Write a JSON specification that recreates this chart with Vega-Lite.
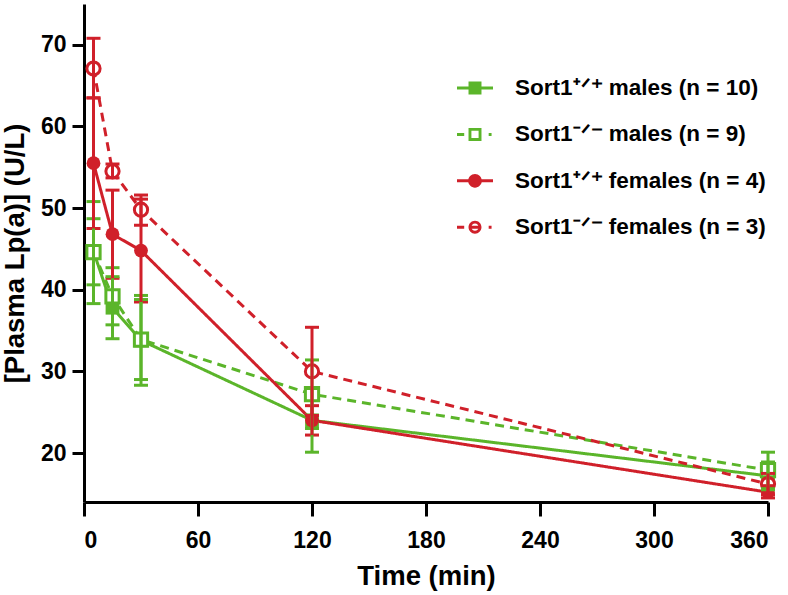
{
  "$schema": "https://vega.github.io/schema/vega-lite/v6.json",
  "autosize": "none",
  "width": 684,
  "height": 498,
  "padding": {"left": 84, "top": 4, "right": 20, "bottom": 93},
  "background": "white",
  "config": {
    "view": {"stroke": null},
    "font": "Liberation Sans",
    "axis": {
      "grid": false,
      "domainColor": "black",
      "domainWidth": 3,
      "tickColor": "black",
      "tickWidth": 3,
      "tickSize": 12,
      "labelFont": "Liberation Sans",
      "labelFontWeight": "bold",
      "labelFontSize": 23,
      "labelColor": "black",
      "titleFont": "Liberation Sans",
      "titleFontWeight": "bold",
      "titleFontSize": 27.5,
      "titleColor": "black"
    }
  },
  "data": {
    "values": [
      {"t": 5, "group": "A", "sex": "male", "genotype": "+/+", "mean": 44.7, "lo": 38.3, "hi": 50.8},
      {"t": 15, "group": "A", "sex": "male", "genotype": "+/+", "mean": 37.8, "lo": 34.0, "hi": 41.6},
      {"t": 30, "group": "A", "sex": "male", "genotype": "+/+", "mean": 33.8, "lo": 28.3, "hi": 39.3},
      {"t": 120, "group": "A", "sex": "male", "genotype": "+/+", "mean": 24.0, "lo": 20.1, "hi": 27.9},
      {"t": 360, "group": "A", "sex": "male", "genotype": "+/+", "mean": 17.2, "lo": 15.5, "hi": 18.9},
      {"t": 5, "group": "B", "sex": "male", "genotype": "-/-", "mean": 44.6, "lo": 40.6, "hi": 48.7},
      {"t": 15, "group": "B", "sex": "male", "genotype": "-/-", "mean": 39.2, "lo": 35.7, "hi": 42.7},
      {"t": 30, "group": "B", "sex": "male", "genotype": "-/-", "mean": 33.9, "lo": 29.0, "hi": 38.8},
      {"t": 120, "group": "B", "sex": "male", "genotype": "-/-", "mean": 27.2, "lo": 23.0, "hi": 31.4},
      {"t": 360, "group": "B", "sex": "male", "genotype": "-/-", "mean": 17.9, "lo": 15.8, "hi": 20.1},
      {"t": 5, "group": "C", "sex": "female", "genotype": "+/+", "mean": 55.5, "lo": 47.5, "hi": 63.5},
      {"t": 15, "group": "C", "sex": "female", "genotype": "+/+", "mean": 46.8, "lo": 41.4, "hi": 52.2},
      {"t": 30, "group": "C", "sex": "female", "genotype": "+/+", "mean": 44.8, "lo": 38.5, "hi": 51.1},
      {"t": 120, "group": "C", "sex": "female", "genotype": "+/+", "mean": 24.0, "lo": 22.2, "hi": 25.8},
      {"t": 360, "group": "C", "sex": "female", "genotype": "+/+", "mean": 15.2, "lo": 14.5, "hi": 16.0},
      {"t": 5, "group": "D", "sex": "female", "genotype": "-/-", "mean": 67.1, "lo": 63.5, "hi": 70.8},
      {"t": 15, "group": "D", "sex": "female", "genotype": "-/-", "mean": 54.5, "lo": 53.7, "hi": 55.4},
      {"t": 30, "group": "D", "sex": "female", "genotype": "-/-", "mean": 49.8, "lo": 47.9, "hi": 51.6},
      {"t": 120, "group": "D", "sex": "female", "genotype": "-/-", "mean": 30.0, "lo": 24.6, "hi": 35.4},
      {"t": 360, "group": "D", "sex": "female", "genotype": "-/-", "mean": 16.2, "lo": 14.9, "hi": 17.5}
    ]
  },
  "encoding": {
    "x": {
      "field": "t",
      "type": "quantitative",
      "scale": {"domain": [0, 360], "nice": false, "zero": false},
      "axis": {"values": [0, 60, 120, 180, 240, 300, 360], "title": "Time (min)", "tickSize": 14, "labelPadding": 13, "titlePadding": 10}
    },
    "color": {
      "field": "group",
      "type": "nominal",
      "scale": {"domain": ["A", "B", "C", "D"], "range": ["#5bb52a", "#5bb52a", "#d0202a", "#d0202a"]},
      "legend": {
        "orient": "none",
        "legendX": 373,
        "legendY": 66,
        "title": null,
        "padding": 0,
        "symbolSize": 1296,
        "symbolType": "square",
        "rowPadding": 16.4,
        "labelOffset": 22,
        "labelFont": "Liberation Sans",
        "labelFontWeight": "bold",
        "labelFontSize": 22.5,
        "labelColor": "black",
        "labelLimit": 400,
        "labelExpr": "datum.value === 'A' ? 'Sort1⁺ᐟ⁺ males (n = 10)' : datum.value === 'B' ? 'Sort1⁻ᐟ⁻ males (n = 9)' : datum.value === 'C' ? 'Sort1⁺ᐟ⁺ females (n = 4)' : 'Sort1⁻ᐟ⁻ females (n = 3)'",
        "encode": {
          "symbols": {
            "update": {
              "shape": {"signal": "datum.value === 'A' ? 'M-1,-0.083H1V0.083H-1Z M-0.36,-0.36H0.36V0.36H-0.36Z' : datum.value === 'B' ? 'M-1,-0.083H-0.6V0.083H-1Z M0.76,-0.083H0.92V0.083H0.76Z M-0.36,-0.36H0.36V0.36H-0.36Z M-0.2,-0.2V0.2H0.2V-0.2Z' : datum.value === 'C' ? 'M-1,-0.083H1V0.083H-1Z M-0.38,0A0.38,0.38,0,1,1,0.38,0A0.38,0.38,0,1,1,-0.38,0Z' : 'M-1,-0.083H-0.6V0.083H-1Z M0.76,-0.083H0.92V0.083H0.76Z M-0.36,0A0.36,0.36,0,1,1,0.36,0A0.36,0.36,0,1,1,-0.36,0Z M-0.2,0A0.2,0.2,0,1,0,0.2,0A0.2,0.2,0,1,0,-0.2,0Z M-0.2,-0.083H0.2V0.083H-0.2Z'"},
              "fill": {"signal": "datum.value === 'A' || datum.value === 'B' ? '#5bb52a' : '#d0202a'"},
              "stroke": {"value": "transparent"},
              "strokeWidth": {"value": 0},
              "strokeDash": {"value": []},
              "opacity": {"value": 1},
              "fillOpacity": {"value": 1}
            }
          }
        }
      }
    },
    "y": {
      "field": "mean",
      "type": "quantitative",
      "scale": {"domain": [14, 75], "nice": false, "zero": false},
      "axis": {"values": [20, 30, 40, 50, 60, 70], "title": "[Plasma Lp(a)] (U/L)", "titlePadding": 11, "labelPadding": 6}
    }
  },
  "layer": [
    {
      "mark": {"type": "line", "strokeWidth": 3},
      "encoding": {
        "strokeDash": {
          "field": "genotype",
          "type": "nominal",
          "scale": {"domain": ["+/+", "-/-"], "range": [[1, 0], [9, 6]]},
          "legend": null
        }
      }
    },
    {
      "transform": [{"filter": "datum.genotype === '+/+'"}],
      "mark": {"type": "point", "filled": true, "opacity": 1, "size": 190},
      "encoding": {
        "shape": {
          "field": "sex",
          "type": "nominal",
          "scale": {"domain": ["male", "female"], "range": ["square", "circle"]},
          "legend": null
        }
      }
    },
    {
      "transform": [{"filter": "datum.genotype === '-/-'"}],
      "mark": {"type": "point", "filled": false, "fill": "white", "fillOpacity": 1, "strokeWidth": 3, "opacity": 1, "size": 175},
      "encoding": {
        "shape": {
          "field": "sex",
          "type": "nominal",
          "scale": {"domain": ["male", "female"], "range": ["square", "circle"]},
          "legend": null
        }
      }
    },
    {
      "mark": {"type": "errorbar", "ticks": true, "thickness": 3, "size": 14, "opacity": 1},
      "encoding": {
        "y": {"field": "lo", "type": "quantitative", "title": "[Plasma Lp(a)] (U/L)"},
        "y2": {"field": "hi"}
      }
    }
  ]
}
